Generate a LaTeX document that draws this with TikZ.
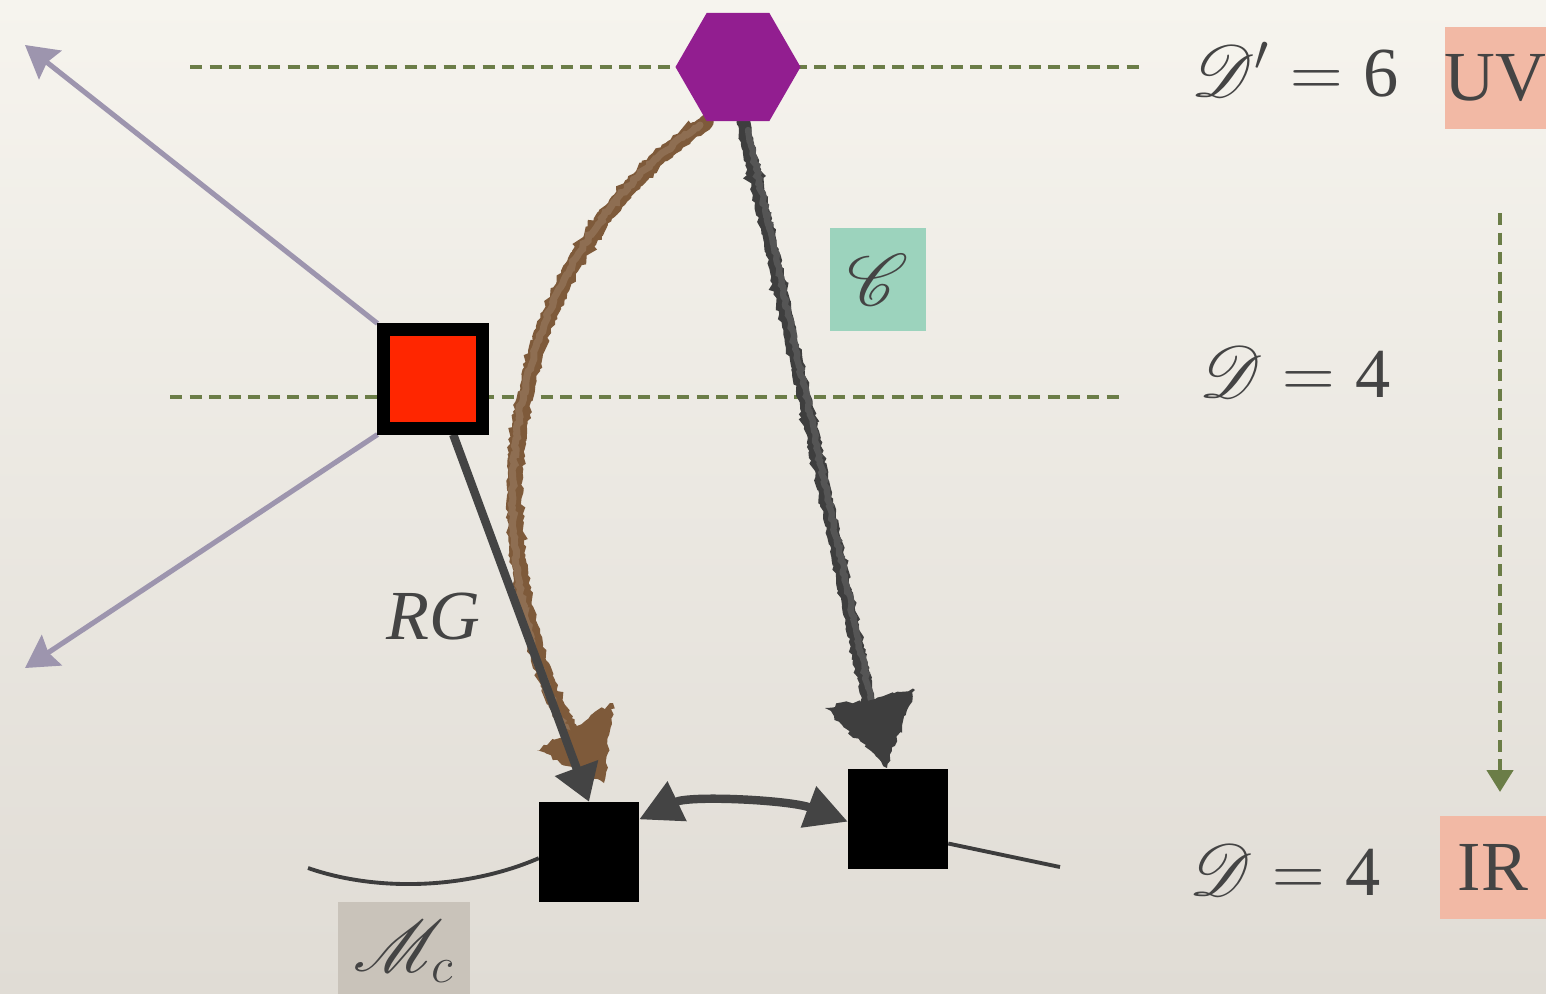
\documentclass[tikz,border=0pt]{standalone}
\usepackage{fontspec}
\setmainfont{Liberation Serif}
\usepackage{mathrsfs}
\usetikzlibrary{shapes.geometric, arrows.meta, decorations.pathmorphing}

\definecolor{paperTop}{HTML}{F6F4EE}
\definecolor{paperBot}{HTML}{E0DCD5}
\definecolor{ink}{HTML}{444444}
\definecolor{olive}{HTML}{6B7D47}
\definecolor{lav}{HTML}{9D95AE}
\definecolor{plum}{HTML}{921E90}
\definecolor{fire}{HTML}{FF2600}
\definecolor{chalkbrown}{HTML}{7E5A3A}
\definecolor{chalkgray}{HTML}{3E3E3E}
\definecolor{mint}{HTML}{9CD3BD}
\definecolor{salmon}{HTML}{F2B9A5}
\definecolor{stone}{HTML}{C9C3BA}

\pgfdeclarelayer{paper}
\pgfdeclarelayer{back}
\pgfsetlayers{paper,back,main}

\begin{document}
\begin{tikzpicture}[x=0.01cm, y=-0.01cm,
  guide/.style={olive, line width=1.3pt, dash pattern=on 0.12cm off 0.075cm},
  flowline/.style={lav, line width=1.45pt, -{Stealth[length=0.32cm, width=0.36cm, inset=0.04cm]}},
  rgline/.style={ink, line width=2.4pt, -{Triangle[length=0.36cm, width=0.44cm]}},
  swapline/.style={ink, line width=2.4pt, {Triangle[length=0.42cm, width=0.42cm]}-{Triangle[length=0.42cm, width=0.42cm]}},
  moduli/.style={ink!90!black, line width=1.1pt},
  chalkline/.style={line width=#1, line cap=round, decorate,
    decoration={random steps, segment length=0.9pt, amplitude=0.45pt}},
  chalkfill/.style={decorate, decoration={random steps, segment length=1.2pt, amplitude=0.7pt}},
  blackbox/.style={rectangle, fill=black, minimum size=0.99cm, inner sep=0pt},
  tag/.style={rectangle, inner sep=0pt, text=ink, font=\fontsize{20}{24}\selectfont},
  lbl/.style={text=ink, inner sep=0pt, font=\fontsize{20}{24}\selectfont}]

% page and paper tone
\useasboundingbox (0,0) rectangle (1546,993);
\begin{pgfonlayer}{paper}
  \shade[top color=paperTop, bottom color=paperBot] (0,0) rectangle (1546,993);
\end{pgfonlayer}

% vertices of the flow
\node[regular polygon, regular polygon sides=6, minimum size=1.25cm, inner sep=0pt, fill=plum] (hex) at (738,67) {};
\node[rectangle, draw=black, line width=3.7pt, fill=fire, minimum size=0.98cm, inner sep=0pt] (red) at (433,379) {};
\node[blackbox] (b1) at (589,852) {};
\node[blackbox] (b2) at (898,819) {};

% boxed labels
\node[tag, fill=mint, minimum width=0.96cm, minimum height=1.03cm] (cbox) at (878,279.5) {$\mathscr{C}$};
\node[tag, fill=stone, minimum width=1.32cm, minimum height=0.97cm] (mbox) at (404,951) {$\mathscr{M}_c$};
\node[tag, fill=salmon, minimum width=1.01cm, minimum height=1.02cm] (uv) at (1495.5,78) {UV};
\node[tag, fill=salmon, minimum width=1.06cm, minimum height=1.03cm] (ir) at (1493,867.5) {IR};

% dimension labels
\node[lbl] (d6) at (1295,70) {$\mathscr{D}' = \mbox{6}$};
\node[lbl] (d4a) at (1295,372) {$\mathscr{D} = \mbox{4}$};
\node[lbl] (d4b) at (1285,870) {$\mathscr{D} = \mbox{4}$};
\node[lbl] (rg) at (433,617) {\itshape RG};

\coordinate (irtop) at (1500,213);
\coordinate (irbot) at (1500,792);
\coordinate (ultip) at (25,45);
\coordinate (lltip) at (25,668);
\coordinate (mcl) at (308,868);
\coordinate (mcr) at (1060,867);

\begin{pgfonlayer}{back}
  % dimension levels
  \draw[guide] (190,67) -- (1140,67);
  \draw[guide] (170,397) -- (1120,397);
  \draw[guide, -{Triangle[length=0.22cm, width=0.26cm]}] (irtop) -- (irbot);

  % relevant directions out of the fixed point
  \draw[flowline] (red.north west) -- (ultip);
  \draw[flowline] (red.south west) -- (lltip);

  % conformal manifold
  \draw[moduli] (mcl) .. controls (380,893) and (470,888) .. (b1.187);
  \draw[moduli] (b2.-26) -- (mcr);

  % chalk arrows from the six-dimensional theory
  \draw[chalkbrown, chalkline=4.2pt] (hex.240) .. controls (600,190) and (520,320) .. (515,480)
       .. controls (512,600) and (545,690) .. (575,740);
  \draw[chalkbrown!88!white, chalkline=2pt] (700,125) .. controls (598,192) and (518,322) .. (513,480)
       .. controls (510,602) and (543,692) .. (572,742);
  \fill[chalkbrown, chalkfill] (537,750) -- (613,703) -- (604,783) -- cycle;

  \draw[chalkgray, chalkline=3.6pt] (hex.275) .. controls (790,330) and (840,560) .. (872,720);
  \draw[chalkgray!88!white, chalkline=1.8pt] (748,130) .. controls (792,330) and (842,560) .. (874,715);
  \fill[chalkgray, chalkfill] (825,708) -- (915,690) -- (887,768) -- cycle;

  % RG flow and the exchange on the conformal manifold
  \draw[rgline] (red.290) -- (b1.north);
  \draw[swapline] (b1.33) .. controls (690,795) and (790,800) .. (b2.183);
\end{pgfonlayer}
\end{tikzpicture}
\end{document}
